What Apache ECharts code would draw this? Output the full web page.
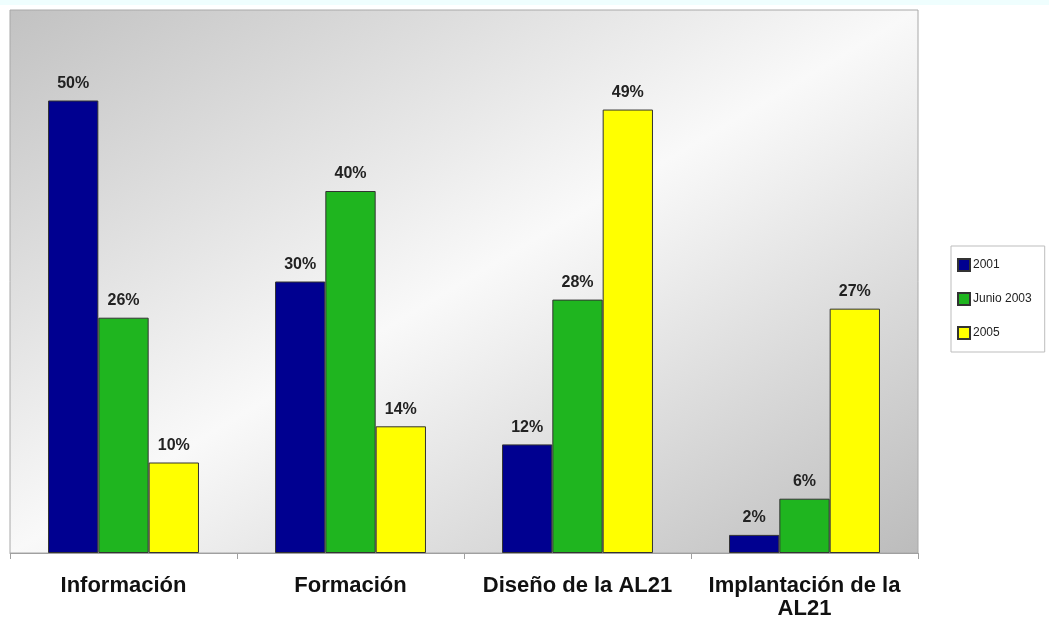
<!DOCTYPE html>
<html>
<head>
<meta charset="utf-8">
<script src="https://cdn.jsdelivr.net/npm/echarts@6/dist/echarts.min.js"></script>
<style>
html,body{margin:0;padding:0;background:#fff;}
#c{width:1049px;height:617px;}
</style>
</head>
<body>
<div id="c"></div>
<script>
const categories = ['Información', 'Formación', 'Diseño de la AL21', 'Implantación de la\nAL21'];
const seriesNames = ['2001', 'Junio 2003', '2005'];
const values2001 = [50, 30, 12, 2];
const valuesJunio2003 = [26, 40, 28, 6];
const values2005 = [10, 14, 49, 27];
const colors = ['#000090', '#1fb51f', '#ffff00'];

const chart = echarts.init(document.getElementById('c'), null, {renderer: 'canvas'});
const allValues = [values2001, valuesJunio2003, values2005];
const font = "'Liberation Sans', Arial, sans-serif";

const option = {
  animation: false,
  backgroundColor: '#fff',
  graphic: [{
    type: 'rect', left: 0, top: 0, shape: {width: 1049, height: 5},
    style: {fill: '#effefe'}, z: -1
  }],
  grid: {
    left: 10, right: 131, top: 10, bottom: 64,
    outerBoundsMode: 'none',
    containLabel: false,
    show: true,
    borderColor: '#a8a8a8', borderWidth: 1,
    backgroundColor: new echarts.graphic.LinearGradient(225, -118, 703, 681, [
      {offset: 0, color: '#c2c2c2'},
      {offset: 0.5, color: '#f9f9f9'},
      {offset: 1, color: '#bcbcbc'}
    ], true)
  },
  legend: {
    orient: 'vertical',
    left: 951, top: 246,
    padding: [12, 13, 12, 6],
    icon: 'rect',
    itemWidth: 12, itemHeight: 12, itemGap: 20,
    backgroundColor: '#fff',
    borderColor: '#bdbdbd', borderWidth: 1,
    textStyle: {fontFamily: font, fontSize: 12, color: '#222', padding: [0, 0, 0, -2]},
    data: seriesNames
  },
  xAxis: {
    type: 'category',
    data: categories,
    axisLine: {lineStyle: {color: '#a0a0a0', width: 1}},
    axisTick: {show: true, length: 6, inside: false, lineStyle: {color: '#a0a0a0'}},
    axisLabel: {
      fontFamily: font, fontSize: 22, fontWeight: 'bold', color: '#111',
      margin: 21, lineHeight: 23, interval: 0
    },
    splitLine: {show: false}
  },
  yAxis: {
    type: 'value', min: 0, max: 60, show: false,
    splitLine: {show: false}
  },
  series: seriesNames.map((name, i) => ({
    name: name,
    type: 'bar',
    data: allValues[i],
    barGap: '0%',
    barCategoryGap: '33.5%',
    itemStyle: {color: colors[i], borderColor: '#333', borderWidth: 1},
    label: {
      show: true, position: 'top', distance: 9,
      formatter: '{c}%',
      fontFamily: font, fontSize: 16, fontWeight: 'bold', color: '#222'
    }
  }))
};
chart.setOption(option);
</script>
</body>
</html>
